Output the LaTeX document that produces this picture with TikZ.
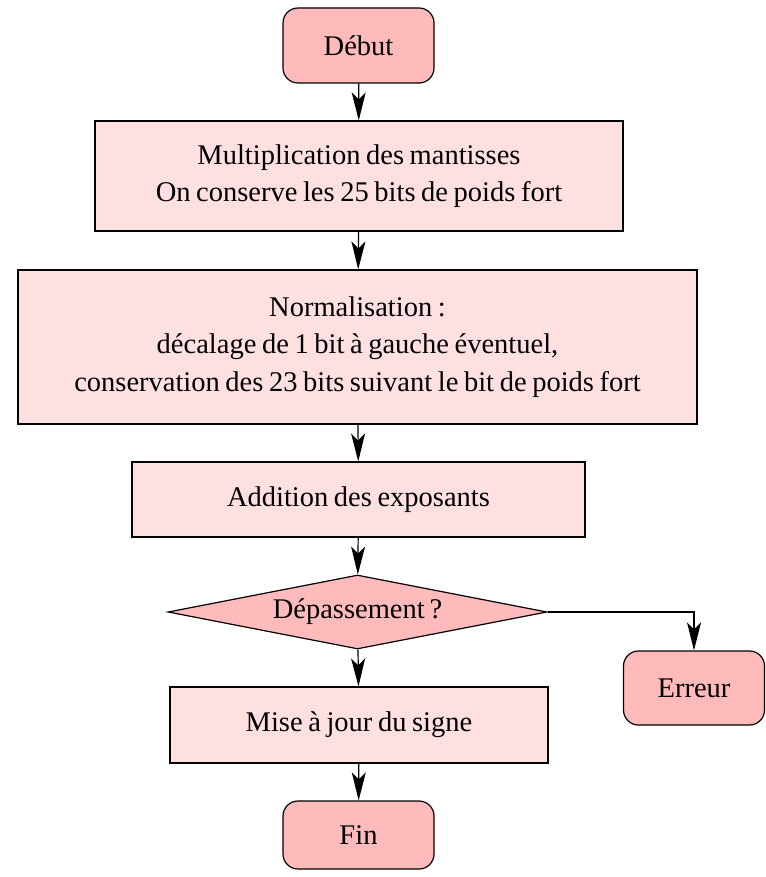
\documentclass[tikz,border=0pt]{standalone}
\usepackage{fontspec}
\setmainfont{Liberation Serif}
\usetikzlibrary{arrows.meta,shapes.geometric}
\definecolor{termfill}{HTML}{FFBBBB}
\definecolor{procfill}{HTML}{FFE0E0}
\newcommand{\nodefontsel}{\fontsize{28.5}{37.5}\selectfont\spaceskip=5.6pt plus 1pt minus 1pt\relax}
\begin{document}
\begin{tikzpicture}[x=1pt,y=-1pt,
  base/.style={draw=black, line width=1.2pt, inner sep=0pt, align=center,
    font=\nodefontsel},
  term/.style={base, fill=termfill, rounded corners=15pt},
  proc/.style={base, fill=procfill},
  decision/.style={base, fill=termfill, diamond, aspect=5.1},
  flow/.style={draw=black, line width=1.2pt, -{Stealth[length=28pt,width=14pt,inset=7pt]}}
]
\useasboundingbox (0,0) rectangle (765,877);
\node[term, minimum width=151pt, minimum height=75pt] (debut) at (358.5,45.5) {Début};
\node[proc, minimum width=528pt, minimum height=110pt] (mult) at (359,176)
  {Multiplication des mantisses\\On conserve les 25 bits de poids fort};
\node[proc, minimum width=679pt, minimum height=154pt] (norm) at (357.5,347)
  {Normalisation :\\décalage de 1 bit à gauche éventuel,\\conservation des 23 bits suivant le bit de poids fort};
\node[proc, minimum width=453pt, minimum height=75pt] (add) at (358.5,499.5) {Addition des exposants};
\node[decision, minimum width=379pt, minimum height=74pt] (dep) at (357.5,612) {Dépassement\,?};
\node[proc, minimum width=378pt, minimum height=76pt] (signe) at (359,725) {Mise à jour du signe};
\node[term, minimum width=151pt, minimum height=68pt] (fin) at (358.5,835) {Fin};
\node[term, minimum width=141pt, minimum height=74pt] (err) at (694,688) {Erreur};
\draw[flow] (debut) -- (mult);
\draw[flow] (mult) -- (norm);
\draw[flow] (norm) -- (add);
\draw[flow] (add) -- (dep);
\draw[flow] (dep) -- (signe);
\draw[flow] (signe) -- (fin);
\draw[flow] (dep.east) -| (err.north);
\end{tikzpicture}
\end{document}
